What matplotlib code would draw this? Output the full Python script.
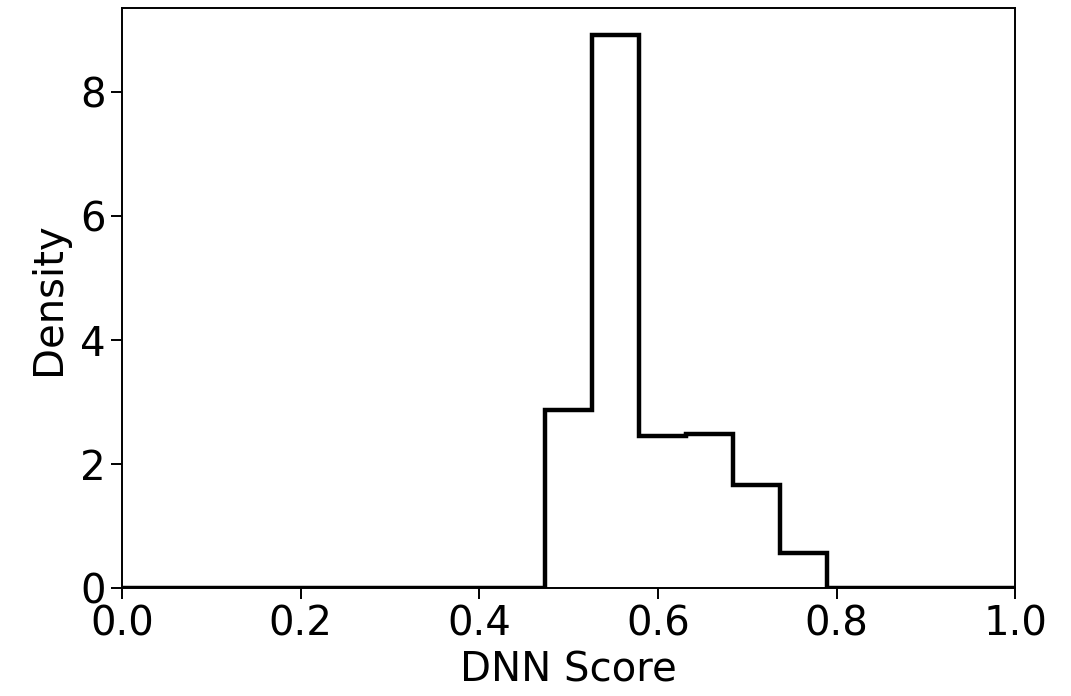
import numpy as np
import matplotlib
matplotlib.use("Agg")
import matplotlib.pyplot as plt

# density per bin, 19 equal bins over [0, 1]
n_bins = 19
density = [0, 0, 0, 0, 0, 0, 0, 0, 0,
           2.88, 8.92, 2.45, 2.49, 1.67, 0.56,
           0, 0, 0, 0]
edges = np.linspace(0, 1, n_bins + 1)

plt.rcParams['font.size'] = 29
fig = plt.figure(figsize=(10.71, 6.96), dpi=100)
ax = fig.add_axes([0.114, 0.155, 0.834, 0.833])

ax.stairs(density, edges, color='black', linewidth=3.2)

ax.set_xlim(0, 1)
ax.set_ylim(0, 9.35)
ax.set_yticks([0, 2, 4, 6, 8])
ax.set_xticks([0.0, 0.2, 0.4, 0.6, 0.8, 1.0])
ax.set_xlabel("DNN Score", labelpad=4)
ax.set_ylabel("Density", labelpad=8)
ax.tick_params(length=8, width=1.4, pad=4)
for s in ax.spines.values():
    s.set_linewidth(1.4)

fig.savefig("out.png", dpi=100)
